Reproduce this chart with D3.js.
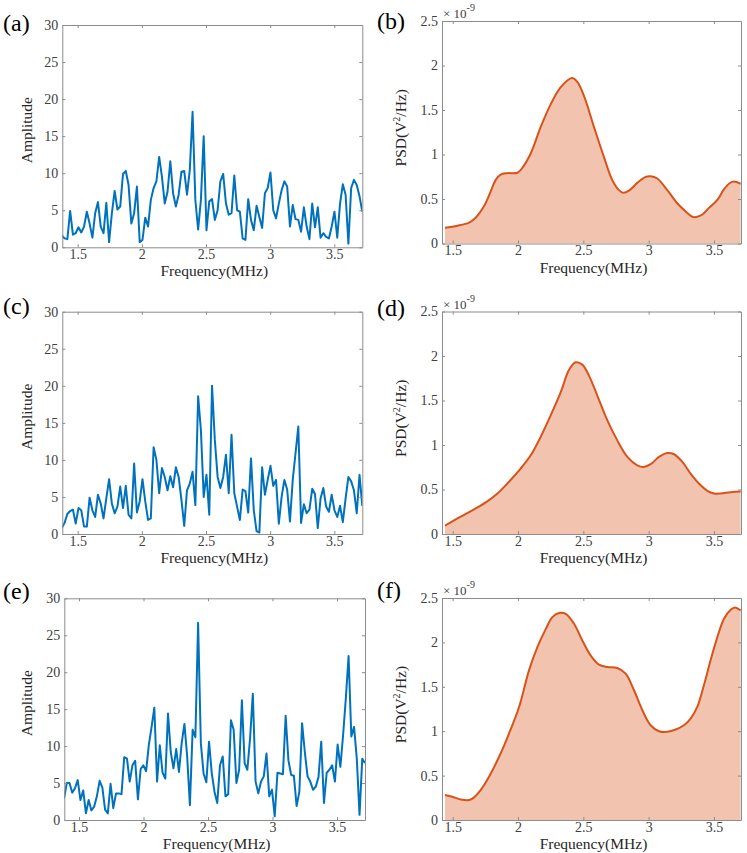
<!DOCTYPE html>
<html>
<head>
<meta charset="utf-8">
<script src="https://d3js.org/d3.v7.min.js"></script>
<style>
  body { margin: 0; background: #fff; }
  #chart-area { width: 747px; height: 853px; }
  svg text { font-family: "Liberation Serif", "Times New Roman", serif; }
</style>
</head>
<body>
<div id="chart-area"></div>
<script>
/*
*    spectra.js  - amplitude spectra and PSD, six panels
*/

// amplitude spectra, evenly spaced bins between first and last frequency
var ampRangeA = [1.376, 3.718];
var ampA = [1.6,1.2,1.1,4.9,1.7,1.9,2.7,2.0,2.8,4.8,
            3.2,1.3,4.6,6.1,2.8,1.9,6.0,0.7,4.6,7.6,
            5.1,5.5,9.9,10.3,8.4,3.2,4.6,8.2,0.7,1.0,
            4.0,2.8,6.4,8.0,8.9,12.2,9.5,5.9,7.5,11.6,
            7.3,5.5,7.1,10.2,10.3,7.1,10.4,18.3,6.4,2.4,
            6.4,15.0,2.3,6.2,6.5,3.7,5.0,8.9,9.9,5.9,
            4.4,4.6,9.7,5.0,4.8,1.2,1.0,6.5,3.7,2.3,
            5.6,4.1,2.6,7.3,8.0,10.1,5.0,3.9,5.9,7.7,
            8.9,8.2,2.8,5.7,3.8,3.7,2.1,5.4,2.8,1.1,
            5.9,2.7,5.4,1.3,1.9,1.4,1.2,2.8,4.8,1.3,
            5.9,8.5,7.1,0.5,8.0,9.1,8.4,6.9,4.8];

var ampRangeC = [1.376, 3.718];
var ampC = [0.8,1.5,2.7,3.1,3.3,1.4,3.5,3.2,1.0,1.0,
            4.9,3.2,2.3,5.3,4.1,2.1,4.8,7.4,4.1,2.8,
            3.7,6.4,3.5,6.5,2.6,2.1,9.5,2.9,4.4,7.4,
            4.4,1.9,2.1,11.7,10.0,5.5,8.9,7.7,5.9,7.8,
            6.3,9.0,7.7,4.6,1.1,5.9,6.8,8.4,3.9,18.6,
            14.0,5.0,8.0,2.6,20.0,12.7,7.7,6.2,7.7,10.7,
            5.5,13.4,5.5,3.7,1.9,6.0,5.8,2.9,10.2,3.2,
            0.4,0.2,9.0,5.3,7.3,9.2,6.5,7.3,1.4,5.0,
            7.3,6.0,1.7,7.3,10.9,14.5,1.5,4.0,2.8,3.3,
            6.1,5.4,0.8,4.8,6.2,3.7,3.0,5.3,3.2,2.3,
            3.8,1.6,4.8,7.7,7.1,5.9,2.8,8.0,3.8];

var ampRangeE = [1.384, 3.717];
var ampE = [2.9,5.0,5.0,3.7,4.3,5.4,2.7,4.0,0.9,2.7,
            1.3,1.8,3.2,5.3,4.4,1.4,0.9,4.9,1.6,3.6,
            3.6,3.5,8.5,8.3,5.2,7.4,8.0,2.8,6.9,7.4,
            6.6,10.2,12.6,15.2,5.2,10.1,6.4,5.6,14.4,9.2,
            7.0,9.6,6.5,10.4,13.0,8.6,2.0,12.2,11.2,26.7,
            10.4,6.3,5.1,10.6,6.3,3.8,2.3,7.4,8.6,3.2,
            3.5,13.5,12.2,5.0,6.8,16.2,7.7,6.8,11.1,17.1,
            5.2,3.6,5.2,5.9,9.0,3.2,4.1,0.5,6.4,6.3,
            6.2,14.1,8.1,6.1,6.0,1.9,3.8,13.1,9.2,5.9,
            5.2,4.1,4.5,5.8,10.6,2.3,6.4,6.8,7.4,5.2,
            10.2,7.2,11.5,16.5,22.2,11.3,12.6,8.3,0.7,8.3,
            7.7];

// PSD curves (x 1e-9 V^2/Hz)
var psdFreqB = [1.441,1.536,1.625,1.676,1.740,1.791,1.829,1.867,1.918,1.995,
                2.033,2.097,2.173,2.250,2.327,2.413,2.454,2.505,2.582,2.658,
                2.722,2.773,2.806,2.849,2.913,2.977,3.015,3.066,3.143,3.219,
                3.296,3.334,3.372,3.411,3.462,3.526,3.577,3.622,3.653,3.704];
var psdB = [0.178,0.200,0.235,0.290,0.420,0.585,0.715,0.775,0.790,0.795,
            0.850,1.011,1.307,1.563,1.756,1.859,1.815,1.659,1.307,0.970,
            0.711,0.600,0.570,0.593,0.681,0.748,0.756,0.730,0.600,0.452,
            0.344,0.300,0.300,0.326,0.400,0.490,0.610,0.680,0.696,0.670];

var psdFreqD = [1.441,1.561,1.663,1.765,1.842,1.918,2.020,2.097,2.173,2.250,
                2.327,2.390,2.441,2.492,2.543,2.607,2.684,2.760,2.837,2.913,
                2.964,3.015,3.079,3.143,3.194,3.258,3.321,3.385,3.449,3.500,
                3.551,3.628,3.704];
var psdD = [0.093,0.194,0.276,0.366,0.455,0.567,0.735,0.884,1.090,1.332,
            1.593,1.843,1.929,1.903,1.780,1.556,1.276,1.052,0.866,0.772,
            0.754,0.784,0.866,0.910,0.896,0.810,0.679,0.567,0.485,0.455,
            0.455,0.470,0.478];

var psdFreqF = [1.441,1.497,1.561,1.625,1.663,1.714,1.778,1.855,1.931,2.008,
                2.084,2.148,2.212,2.263,2.314,2.365,2.429,2.492,2.556,2.620,
                2.684,2.760,2.824,2.888,2.952,3.015,3.079,3.143,3.207,3.270,
                3.321,3.372,3.423,3.474,3.526,3.577,3.628,3.661,3.704];
var psdF = [0.281,0.262,0.232,0.225,0.255,0.337,0.487,0.712,0.974,1.273,
            1.685,1.948,2.150,2.285,2.330,2.322,2.210,2.022,1.854,1.749,
            1.723,1.712,1.648,1.461,1.236,1.067,1.000,0.993,1.019,1.067,
            1.142,1.273,1.517,1.798,2.060,2.266,2.367,2.393,2.360];

var freqTicks = [1.5, 2, 2.5, 3, 3.5];
var ampTicks = [0, 5, 10, 15, 20, 25, 30];
var psdTicks = [0, 0.5, 1, 1.5, 2, 2.5];

var serif = "Liberation Serif, Times New Roman, serif";
var frameColor = "#8c8c8c";
var textColor = "#404040";

var svg = d3.select("#chart-area").append("svg")
            .attr("width", 747)
            .attr("height", 853);

var panels = [
  {tag: "(a)", kind: "amp", values: ampA, range: ampRangeA, box: [62.3, 362.3, 25, 247.3], dom: [1.380, 3.718], tagPos: [3, 30.5]},
  {tag: "(b)", kind: "psd", freqs: psdFreqB, values: psdB, box: [442, 741, 21, 243.5], dom: [1.418, 3.707], tagPos: [377, 29]},
  {tag: "(c)", kind: "amp", values: ampC, range: ampRangeC, box: [62.3, 362.3, 311.7, 534], dom: [1.380, 3.718], tagPos: [3, 314]},
  {tag: "(d)", kind: "psd", freqs: psdFreqD, values: psdD, box: [442, 741, 311.5, 534], dom: [1.418, 3.707], tagPos: [377, 315.5]},
  {tag: "(e)", kind: "amp", values: ampE, range: ampRangeE, box: [64.3, 365, 598.3, 820], dom: [1.386, 3.717], tagPos: [3, 598.5]},
  {tag: "(f)", kind: "psd", freqs: psdFreqF, values: psdF, box: [442, 741, 598, 820], dom: [1.418, 3.707], tagPos: [377, 597.5]}
];

panels.forEach(function(p, i) {
  var x = d3.scaleLinear().domain(p.dom).range([p.box[0], p.box[1]]);
  var yMax = p.kind == "amp" ? 30 : 2.5;
  var y = d3.scaleLinear().domain([0, yMax]).range([p.box[3], p.box[2]]);

  var clipId = "clip" + i;
  svg.append("clipPath").attr("id", clipId)
     .append("rect")
     .attr("x", p.box[0]).attr("y", p.box[2] - 2)
     .attr("width", p.box[1] - p.box[0]).attr("height", p.box[3] - p.box[2] + 2);

  var g = svg.append("g").attr("clip-path", "url(#" + clipId + ")");

  if (p.kind == "amp") {
    var n = p.values.length;
    var step = (p.range[1] - p.range[0]) / (n - 1);
    var pts = p.values.map(function(v, k) { return [p.range[0] + k * step, v]; });
    var line = d3.line()
                 .x(function(d) { return x(d[0]); })
                 .y(function(d) { return y(d[1]); });
    g.append("path")
     .datum(pts)
     .attr("d", line)
     .attr("fill", "none")
     .attr("stroke", "#0072BD")
     .attr("stroke-width", 2)
     .attr("stroke-linejoin", "round");
  } else {
    var pts = p.values.map(function(v, k) { return [p.freqs[k], v]; });
    var area = d3.area()
                 .x(function(d) { return x(d[0]); })
                 .y0(y(0))
                 .y1(function(d) { return y(d[1]); })
                 .curve(d3.curveCatmullRom.alpha(0.5));
    var line = d3.line()
                 .x(function(d) { return x(d[0]); })
                 .y(function(d) { return y(d[1]); })
                 .curve(d3.curveCatmullRom.alpha(0.5));
    g.append("path")
     .datum(pts)
     .attr("d", area)
     .attr("fill", "#F2C4B0");
    g.append("path")
     .datum(pts)
     .attr("d", line)
     .attr("fill", "none")
     .attr("stroke", "#D95319")
     .attr("stroke-width", 2);
  }

  // box with inward ticks
  var fmtY = p.kind == "amp" ? d3.format("d") : d3.format("~g");
  var bottom = svg.append("g")
                  .attr("transform", "translate(0," + p.box[3] + ")")
                  .call(d3.axisBottom(x).tickValues(freqTicks).tickFormat(d3.format("~g"))
                          .tickSizeInner(-3).tickSizeOuter(0).tickPadding(2));
  var left = svg.append("g")
                .attr("transform", "translate(" + p.box[0] + ",0)")
                .call(d3.axisLeft(y).tickValues(p.kind == "amp" ? ampTicks : psdTicks).tickFormat(fmtY)
                        .tickSizeInner(-3).tickSizeOuter(0).tickPadding(4));
  var top = svg.append("g")
               .attr("transform", "translate(0," + p.box[2] + ")")
               .call(d3.axisTop(x).tickValues(freqTicks).tickFormat("")
                       .tickSizeInner(-3).tickSizeOuter(0));
  var right = svg.append("g")
                 .attr("transform", "translate(" + p.box[1] + ",0)")
                 .call(d3.axisRight(y).tickValues(p.kind == "amp" ? ampTicks : psdTicks).tickFormat("")
                         .tickSizeInner(-3).tickSizeOuter(0));

  [bottom, left, top, right].forEach(function(ax) {
    ax.attr("font-family", null).attr("font-size", null);
    ax.select(".domain").attr("stroke", frameColor).attr("stroke-width", 1);
    ax.selectAll(".tick line").attr("stroke", frameColor);
    ax.selectAll("text")
      .style("font-family", serif)
      .style("font-size", "14px")
      .attr("fill", textColor);
  });

  var midX = (p.box[0] + p.box[1]) / 2;
  var midY = (p.box[2] + p.box[3]) / 2;

  svg.append("text")
     .attr("x", midX + 2)
     .attr("y", p.box[3] + 29)
     .attr("text-anchor", "middle")
     .style("font-family", serif)
     .style("font-size", "15.5px")
     .attr("fill", "#262626")
     .text("Frequency(MHz)");

  if (p.kind == "amp") {
    svg.append("text")
       .attr("transform", "translate(32," + (midY - 6) + ") rotate(-90)")
       .attr("text-anchor", "middle")
       .style("font-family", serif)
       .style("font-size", "15.5px")
       .attr("fill", "#262626")
       .text("Amplitude");
  } else {
    var yl = svg.append("text")
                .attr("transform", "translate(406," + (midY - 4.5) + ") rotate(-90)")
                .attr("text-anchor", "middle")
                .style("font-family", serif)
                .style("font-size", "15.5px")
                .attr("fill", "#262626");
    yl.append("tspan").text("PSD(V");
    yl.append("tspan").style("font-size", "10px").attr("dy", -6).text("2");
    yl.append("tspan").attr("dy", 6).text("/Hz)");

    var ex = svg.append("text")
                .attr("x", p.box[0] + 1)
                .attr("y", p.box[2] - 3)
                .style("font-family", serif)
                .style("font-size", "13px")
                .attr("fill", textColor);
    ex.append("tspan").text("\u00d7 10");
    ex.append("tspan").style("font-size", "10px").attr("dy", -7).text("-9");
  }

  svg.append("text")
     .attr("x", p.tagPos[0])
     .attr("y", p.tagPos[1])
     .style("font-family", serif)
     .style("font-size", "24px")
     .attr("fill", "#000")
     .text(p.tag);
});
</script>
</body>
</html>
